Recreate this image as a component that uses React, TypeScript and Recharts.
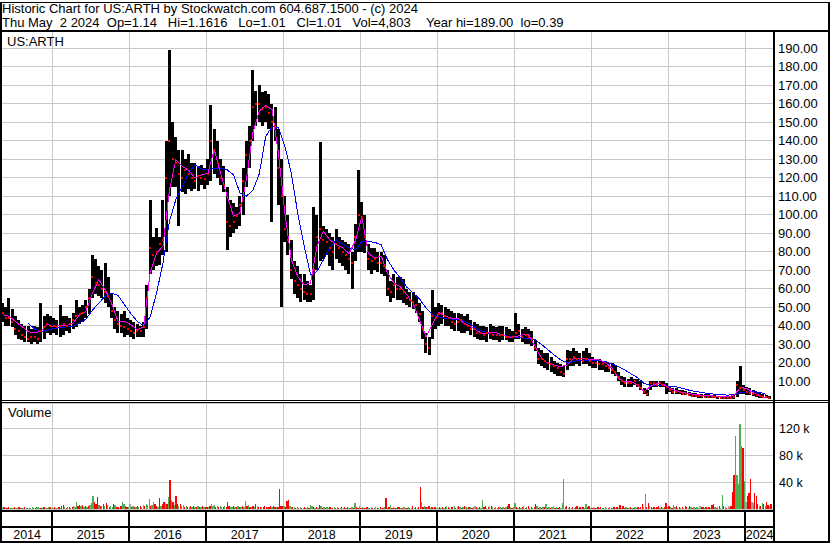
import React from "react";
import { ComposedChart, Bar, Line, Scatter, XAxis, YAxis, CartesianGrid, Cell } from "recharts";

const FONT = '"Liberation Sans", Arial, Helvetica, sans-serif';
const GRID = "#c8c8c8";

// time window shown on the x axis, in decimal years (early May 2014 .. early May 2024)
const T_START = 2014.347;
const T_END = 2024.373;

const yearBoundaries = [2015, 2016, 2017, 2018, 2019, 2020, 2021, 2022, 2023, 2024];
const yearLabels = [2014, 2015, 2016, 2017, 2018, 2019, 2020, 2021, 2022, 2023, 2024];
const priceTicks = [10, 20, 30, 40, 50, 60, 70, 80, 90, 100, 110, 120, 130, 140, 150, 160, 170, 180, 190];
const volumeTicks = [40, 80, 120];

// half-month bars, May 2014 .. Apr 2024 (two per month)
const priceLow = [
  42, 40, 40, 39, 35, 33, 32, 31, 31, 30, 31, 30, 31, 33, 36, 35,
  36, 35, 34, 35, 37, 36, 38, 39, 41, 42, 44, 46, 55, 57, 56, 55, 52, 50, 44, 38, 36, 36, 34, 35,
  34, 33, 34, 34, 34, 38, 68, 70, 72, 73, 78, 80, 110, 115, 115, 94, 112, 111, 114, 113, 114, 113, 116, 114,
  116, 118, 122, 120, 116, 112, 81, 88, 90, 92, 94, 100, 115, 125, 140, 148, 150, 148, 150, 146, 96, 140, 105, 50,
  85, 78, 65, 57, 55, 53, 54, 53, 53, 54, 70, 75, 76, 78, 72, 70, 76, 74, 72, 70, 68, 60, 75, 80,
  80, 79, 70, 68, 70, 69, 68, 67, 56, 53, 55, 54, 54, 52, 51, 50, 49, 47, 42, 33, 25, 24, 33, 38,
  40, 41, 40, 40, 38, 37, 37, 36, 36, 37, 35, 34, 33, 32, 32, 31, 33, 32, 32, 31, 32, 32, 31, 31,
  33, 33, 31, 30, 30, 29, 26, 19, 18, 17, 16, 15, 14, 13, 13, 12, 16, 18, 18, 19, 18, 19, 19, 18,
  17, 17, 16, 16, 15, 15, 14, 13, 10, 8, 7, 7, 7, 8, 7, 5, 3, 2, 5, 7, 7, 7, 7, 3,
  4, 3, 3, 3, 2.5, 2.4, 2, 1.5, 1.5, 1, 1, 0.8, 0.8, 0.6, 0.6, 0.5, 0.5, 0.4, 0.4, 0.4, 0.5, 1.5, 3, 3,
  2.5, 2.4, 1.8, 1.5, 1, 0.8, 0.6, 0.4,
];
const priceHigh = [
  52, 50, 55, 49, 45, 43, 41, 40, 40, 38, 40, 39, 52, 45, 46, 45,
  44, 43, 51, 45, 45, 44, 47, 54, 50, 51, 54, 60, 78, 76, 72, 70, 74, 66, 57, 50, 48, 46, 48, 44,
  43, 42, 41, 40, 42, 62, 108, 88, 93, 88, 108, 140, 189, 150, 142, 135, 135, 130, 133, 128, 128, 126, 127, 125,
  130, 159, 146, 140, 130, 126, 115, 108, 106, 104, 110, 125, 140, 148, 178, 167, 170, 166, 167, 165, 160, 158, 146, 130,
  110, 100, 86, 75, 72, 68, 68, 64, 62, 104, 100, 139, 94, 92, 90, 88, 92, 88, 86, 85, 84, 80, 95, 124,
  107, 100, 84, 82, 82, 80, 80, 78, 70, 64, 68, 66, 66, 65, 60, 58, 58, 56, 52, 48, 36, 34, 59, 50,
  52, 51, 50, 49, 48, 47, 47, 46, 45, 46, 43, 42, 41, 40, 40, 39, 41, 40, 39, 40, 40, 39, 38, 37,
  47, 41, 38, 39, 38, 37, 32, 28, 27, 25, 25, 23, 21, 20, 19, 18, 27, 26, 28, 26, 25, 26, 28, 25,
  23, 22, 22, 21, 21, 20, 20, 18, 15, 13, 12, 11, 12, 11, 11, 10, 6, 5, 10, 10, 10, 10, 10, 9,
  7, 6, 6, 5, 5, 4.5, 4, 3.5, 3.5, 3, 3, 2.8, 2.8, 2.5, 2.5, 2.2, 2.2, 2, 2, 1.8, 3, 10, 18, 8,
  7, 6.5, 5, 4, 3.5, 3, 2.5, 2,
];
const priceClose = [
  47, 44, 44, 42, 38, 37, 35, 34, 33, 34, 34, 33, 37, 39, 41, 40,
  40, 39, 40, 41, 40, 41, 43, 45, 46, 47, 50, 55, 66, 63, 62, 60, 58, 56, 48, 43, 41, 40, 39, 38,
  37, 36, 37, 37, 39, 55, 82, 78, 80, 84, 86, 120, 140, 130, 128, 122, 120, 124, 122, 120, 118, 121, 120, 119,
  122, 140, 135, 128, 120, 116, 96, 94, 96, 99, 105, 118, 132, 140, 158, 160, 160, 157, 158, 155, 150, 148, 125, 110,
  92, 86, 70, 64, 62, 60, 58, 57, 57, 70, 88, 92, 86, 85, 82, 80, 84, 82, 80, 78, 76, 74, 88, 100,
  98, 88, 76, 75, 76, 74, 74, 72, 60, 58, 62, 60, 60, 58, 55, 54, 53, 51, 46, 38, 30, 28, 45, 44,
  46, 47, 45, 44, 42, 41, 42, 43, 41, 40, 38, 38, 36, 36, 35, 36, 36, 35, 35, 35, 35, 34, 34, 34,
  36, 37, 34, 35, 34, 33, 28, 22, 22, 21, 20, 19, 18, 17, 15, 14, 22, 22, 23, 22, 22, 21, 22, 21,
  20, 20, 19, 19, 18, 17, 16, 15, 12, 10, 9, 9, 9, 10, 8, 6, 4, 3, 9, 9, 8, 9, 8, 7,
  5, 4, 4, 4, 3, 3, 2.5, 2.2, 2, 2, 1.8, 1.6, 1.5, 1.4, 1.3, 1.2, 1.1, 1, 1, 0.9, 1.2, 8, 6, 5,
  4, 3.5, 3, 2.5, 2, 1.5, 1.2, 1.01,
];

// monthly moving averages, May 2014 .. Apr 2024
const fastAverage = [
  45.9, 45, 42.3, 39.5, 36.8, 36, 37, 40.5,
  39.5, 40, 40, 41.4, 45.9, 47.7, 57.6, 64.8, 59.4, 52, 42.3, 42.3,
  40.5, 37.7, 39.5, 68.4, 79, 83, 113, 129.6, 126, 124, 119.7, 121.5,
  122.4, 135, 122, 110, 99, 101, 119, 144, 156, 159, 156.7, 133,
  101, 75.6, 66.6, 62, 63, 83, 91, 86.4, 83.7, 82, 79, 86,
  99, 79, 76.5, 77.5, 68.4, 63, 61, 56.7, 52, 43, 34, 41,
  47, 45, 44, 44, 41, 39.5, 37, 35.6, 36.3, 36, 35, 33.6,
  34, 35, 35, 28.7, 22.3, 19.6, 18.7, 17.8, 18.7, 22.3, 22.3, 22,
  21.8, 21.4, 20, 16.9, 11.4, 9.6, 9.6, 7.8, 4.2, 7.3, 8.7, 8.3,
  6, 4.7, 3.8, 3.3, 2.7, 2.4, 2.2, 1.8, 1.6, 1.5, 2.4, 6.5,
  6, 3.6, 2.2, 1.1,
];
const slowAverage = [
  null, null, null, null, 41.4, 38, 36.8, 37.7,
  38.4, 39, 39.3, 39.8, 41.4, 43.5, 48.3, 52.2, 55.8, 57.6, 56.3, 51.3,
  46.4, 42.3, 40, 44.6, 57.6, 73.8, 96.3, 108, 115.2, 122.4, 127, 124.7,
  124.2, 125, 125, 124.2, 121.5, 111.6, 110, 113, 122, 142, 147.7, 147,
  137, 122.4, 100.8, 83, 67.5, 69.3, 75.6, 82, 86.4, 83.7, 82, 81,
  85.5, 85.5, 85, 83.7, 75.6, 70, 65.7, 60.8, 57.6, 54.3, 49.5, 45.9,
  44.6, 43.9, 43.6, 43.2, 42.3, 40.5, 38.2, 36.7, 35.6, 35, 34.7, 34.1,
  33.8, 33.5, 32.8, 32.3, 29.8, 26.9, 24, 21.4, 20, 20.5, 21.4, 21.4,
  21.4, 21.2, 20.5, 19.2, 17.8, 16, 13.8, 11.8, 8.7, 7.6, 7.4, 7.4,
  7.3, 6.9, 6, 5.1, 4.4, 3.8, 3.3, 2.9, 2.7, 2.4, 2.7, 3.8,
  4.2, 4.2, 4, 2.9,
];

// weekly volume in thousands; direction g = up, r = down, n = unchanged
const volume2014 = [2, 3, 2, 2, 3, 2, 2, 2, 3, 2, 2, 3, 2, 2, 2, 3, 2, 2, 2, 2, 3, 2, 2, 3, 3, 2, 2, 2, 3, 2, 2, 3, 3, 2];
const direction2014 = "grgrrgggrggrrggrgrrggrrgggrgrgggrg";
const volume2015 = [2, 3, 2, 2, 3, 2, 4, 6, 3, 2, 3, 3, 2, 3, 4, 3, 10, 4, 6, 4, 6, 3, 4, 3, 4, 6, 9, 19, 11, 8, 18, 6, 4, 4, 8, 4, 9, 6, 3, 4, 3, 7, 6, 3, 3, 2, 4, 10, 8, 4, 3, 3];
const direction2015 = "grggrgrrgrgrgrgggrrgrgrgrgggrrrgrgrgrgrggrgrrgrggrrg";
const volume2016 = [7, 3, 4, 3, 3, 4, 3, 4, 3, 6, 4, 8, 6, 15, 4, 6, 10, 8, 4, 3, 17, 4, 7, 10, 9, 7, 18, 43, 13, 10, 6, 19, 8, 4, 7, 4, 6, 3, 4, 3, 3, 4, 3, 4, 3, 3, 4, 3, 3, 4, 3, 3];
const direction2016 = "nrgrgrgrggrgggrggrrgrgrrgrgrgrgrrgrggrgrgrgrgrgrgrgr";
const volume2017 = [3, 3, 4, 7, 4, 6, 3, 5, 3, 4, 3, 3, 4, 3, 11, 4, 3, 3, 4, 3, 3, 4, 3, 3, 4, 3, 12, 4, 6, 3, 3, 4, 3, 7, 4, 3, 3, 3, 3, 4, 3, 3, 3, 5, 3, 5, 3, 3, 3, 29, 4, 5];
const direction2017 = "rgrgggrgrggrgrrrggrgrgrgrggrgrgrgrgrrgrrrgrrgrrgrrrr";
const volume2018 = [4, 3, 12, 13, 5, 3, 3, 3, 2, 3, 2, 3, 2, 2, 3, 2, 3, 2, 6, 4, 3, 2, 3, 2, 6, 4, 2, 3, 2, 3, 2, 3, 2, 2, 3, 2, 3, 2, 2, 3, 2, 3, 2, 3, 2, 2, 3, 2, 9, 3, 2, 5];
const direction2018 = "grrrggrgrgrgrgrggrggrgrgrgrgrggrgrgrgrgrgrgrgrgrgrrg";
const volume2019 = [2, 3, 2, 2, 3, 2, 2, 3, 2, 2, 3, 2, 2, 3, 2, 2, 3, 16, 2, 3, 6, 2, 3, 2, 2, 3, 3, 2, 2, 3, 2, 2, 3, 2, 2, 4, 2, 3, 2, 3, 33, 10, 3, 4, 3, 3, 4, 2, 3, 2, 3, 2];
const direction2019 = "rgrgrgrgrggrgrgrgrgrgrgrgrrgrggrgrgrgrgrrgrgrgrgrgrg";
const volume2020 = [2, 3, 2, 3, 2, 3, 4, 3, 2, 3, 3, 4, 2, 3, 4, 3, 2, 3, 4, 3, 2, 3, 3, 2, 3, 4, 3, 2, 3, 2, 13, 3, 5, 2, 3, 4, 4, 3, 2, 3, 2, 3, 3, 2, 3, 2, 3, 4, 7, 3, 2, 3];
const direction2020 = "grgrgrgrgrrgrgrgrgrggrgrgnrgrggrrgrnrgrggrgrgrgrrgrg";
const volume2021 = [9, 3, 2, 3, 2, 3, 5, 2, 3, 4, 2, 3, 2, 3, 8, 4, 2, 3, 2, 3, 3, 7, 2, 3, 2, 3, 4, 2, 3, 2, 3, 2, 9, 44, 3, 4, 2, 3, 2, 3, 2, 3, 4, 2, 3, 2, 3, 2, 8, 3, 4, 2];
const direction2021 = "grgrgrgrgrgrgrrgrgrgrgrgrgnrgrrgggrrgrgrgrrgrgrggrrg";
const volume2022 = [2, 3, 2, 2, 3, 2, 3, 2, 2, 3, 2, 2, 3, 2, 2, 3, 2, 3, 2, 6, 2, 4, 2, 3, 2, 2, 3, 2, 2, 3, 2, 3, 2, 3, 8, 3, 22, 3, 9, 5, 3, 2, 3, 2, 3, 4, 2, 3, 2, 3, 9, 3];
const direction2022 = "rgrgrgrgrggrgrgrgrgrgrrgrgrgrggrgrrggrrgrgrgrrgrgrrg";
const volume2023 = [4, 3, 2, 6, 3, 4, 2, 3, 2, 3, 2, 4, 3, 2, 5, 3, 2, 3, 2, 3, 2, 4, 3, 3, 2, 3, 2, 3, 2, 6, 7, 3, 2, 3, 4, 2, 21, 4, 3, 2, 5, 3, 4, 26, 50, 108, 50, 37, 127, 93, 90, 42];
const direction2023 = "rgrggrgrgrgrrgrgrgrggnrrgrgrgrrgrgrggrgrngrrrgggggrgr";
const volume2024 = [10, 19, 24, 44, 11, 9, 24, 19, 7, 4, 5, 9, 7, 4, 10, 6, 4, 7];
const direction2024 = "nrrrngrrrgrgrgrrgr";

const volumeYears = [
  { year: 2014, firstWeek: 18, values: volume2014, dirs: direction2014 },
  { year: 2015, firstWeek: 0, values: volume2015, dirs: direction2015 },
  { year: 2016, firstWeek: 0, values: volume2016, dirs: direction2016 },
  { year: 2017, firstWeek: 0, values: volume2017, dirs: direction2017 },
  { year: 2018, firstWeek: 0, values: volume2018, dirs: direction2018 },
  { year: 2019, firstWeek: 0, values: volume2019, dirs: direction2019 },
  { year: 2020, firstWeek: 0, values: volume2020, dirs: direction2020 },
  { year: 2021, firstWeek: 0, values: volume2021, dirs: direction2021 },
  { year: 2022, firstWeek: 0, values: volume2022, dirs: direction2022 },
  { year: 2023, firstWeek: 0, values: volume2023, dirs: direction2023 },
  { year: 2024, firstWeek: 0, values: volume2024, dirs: direction2024 },
];

const DIR_COLORS: Record<string, string> = { g: "#4caf50", r: "#ff0000", n: "#a0a0a0" };

const priceRows = priceLow.map((low, i) => ({
  t: 2014 + (4.25 + i / 2) / 12,
  range: [low, priceHigh[i]],
  close: priceClose[i],
  fast: i % 2 === 0 ? fastAverage[i / 2] : null,
  slow: i % 2 === 0 ? slowAverage[i / 2] : null,
}));

const volumeRows = volumeYears.flatMap(({ year, firstWeek, values, dirs }) =>
  values.map((v, i) => ({ t: year + (firstWeek + i + 0.5) / 52, v, dir: dirs[i] ?? "g" }))
);

// year names sit in the middle of each (visible part of the) year
const labelTicks = yearLabels.map((y) => (Math.max(y, T_START) + Math.min(y + 1, T_END)) / 2);
const axisTicks = [...yearBoundaries, ...labelTicks].sort((a, b) => a - b);

function YearTick(props: any) {
  const { x, y, payload } = props;
  const v = payload.value as number;
  if (yearBoundaries.includes(v)) {
    return <line x1={x} x2={x} y1={y + 2} y2={y + 33} stroke="#000" strokeWidth={2} />;
  }
  return (
    <text x={x} y={y + 30} textAnchor="middle" fontSize={12.5} fontFamily={FONT} fill="#000">
      {Math.floor(v)}
    </text>
  );
}

function CloseMark(props: any) {
  const { cx, cy } = props;
  if (cx == null || cy == null) return null;
  return <rect x={cx - 1} y={cy - 1} width={2} height={2} fill="#ff0000" />;
}

const abs = (left: number, top: number, width: number, height: number): React.CSSProperties => ({
  position: "absolute",
  left,
  top,
  width,
  height,
  background: "#000",
});

const textStyle = (left: number, top: number): React.CSSProperties => ({
  position: "absolute",
  left,
  top,
  fontSize: 13,
  lineHeight: "15px",
  whiteSpace: "pre",
  color: "#000",
});

export default function App() {
  return (
    <div
      style={{
        position: "absolute",
        left: 0,
        top: 0,
        width: 830,
        height: 543,
        background: "#fff",
        fontFamily: FONT,
        overflow: "hidden",
      }}
    >
      <div style={textStyle(2, 1)}>Historic Chart for US:ARTH by Stockwatch.com 604.687.1500 - (c) 2024</div>
      <div style={textStyle(2, 15)}>Thu May  2 2024  Op=1.14   Hi=1.1616   Lo=1.01   Cl=1.01   Vol=4,803</div>
      <div style={textStyle(426, 15)}>Year hi=189.00  lo=0.39</div>

      <div style={{ position: "absolute", left: 0, top: 31, shapeRendering: "crispEdges" } as React.CSSProperties}>
        <ComposedChart width={830} height={369} data={priceRows} margin={{ top: 0, right: 0, bottom: 0, left: 2 }}>
          <CartesianGrid stroke={GRID} verticalValues={yearBoundaries} />
          <XAxis dataKey="t" type="number" domain={[T_START, T_END]} allowDataOverflow ticks={yearBoundaries} hide />
          <YAxis
            orientation="right"
            width={56}
            domain={[-0.22, 199.24]}
            allowDataOverflow
            ticks={priceTicks}
            interval={0}
            tickFormatter={(v: number) => v.toFixed(2)}
            tick={{ fill: "#000", fontSize: 13, fontFamily: FONT }}
            tickLine={false}
            axisLine={false}
            tickSize={0}
            tickMargin={4}
          />
          <Bar dataKey="range" fill="#000" barSize={3} isAnimationActive={false} />
          <Scatter dataKey="close" shape={<CloseMark />} isAnimationActive={false} />
          <Line dataKey="slow" stroke="#0000ff" strokeWidth={1} dot={false} activeDot={false} connectNulls isAnimationActive={false} />
          <Line dataKey="fast" stroke="#ff00ff" strokeWidth={1} dot={false} activeDot={false} connectNulls isAnimationActive={false} />
        </ComposedChart>
      </div>

      <div style={{ position: "absolute", left: 0, top: 403, shapeRendering: "crispEdges" } as React.CSSProperties}>
        <ComposedChart width={830} height={139} data={volumeRows} margin={{ top: 0, right: 0, bottom: 0, left: 2 }}>
          <CartesianGrid stroke={GRID} verticalValues={yearBoundaries} />
          <XAxis
            dataKey="t"
            type="number"
            domain={[T_START, T_END]}
            allowDataOverflow
            ticks={axisTicks}
            interval={0}
            height={33}
            tick={(p: any) => <YearTick {...p} />}
            tickLine={false}
            axisLine={false}
            tickSize={0}
            tickMargin={0}
          />
          <YAxis
            orientation="right"
            width={56}
            domain={[0, 157.6]}
            allowDataOverflow
            ticks={volumeTicks}
            interval={0}
            tickFormatter={(v: number) => `${v} k`}
            tick={{ fill: "#000", fontSize: 12.5, fontFamily: FONT }}
            tickLine={false}
            axisLine={false}
            tickSize={0}
            tickMargin={5}
          />
          <Bar dataKey="v" barSize={2} isAnimationActive={false}>
            {volumeRows.map((r, i) => (
              <Cell key={i} fill={DIR_COLORS[r.dir] ?? DIR_COLORS.g} />
            ))}
          </Bar>
        </ComposedChart>
      </div>

      <div style={{ ...textStyle(7, 34) }}>US:ARTH</div>
      <div style={{ ...textStyle(8, 405) }}>Volume</div>

      {/* frame */}
      <div style={abs(0, 2, 830, 1)} />
      <div style={abs(0, 30, 830, 2)} />
      <div style={abs(0, 2, 2, 541)} />
      <div style={abs(828, 2, 2, 541)} />
      <div style={abs(773, 30, 2, 513)} />
      <div style={abs(0, 400, 830, 1)} />
      <div style={abs(0, 402, 830, 1)} />
      <div style={abs(0, 510, 775, 2)} />
      <div style={abs(0, 526, 775, 2)} />
      <div style={abs(0, 541, 830, 2)} />
    </div>
  );
}
